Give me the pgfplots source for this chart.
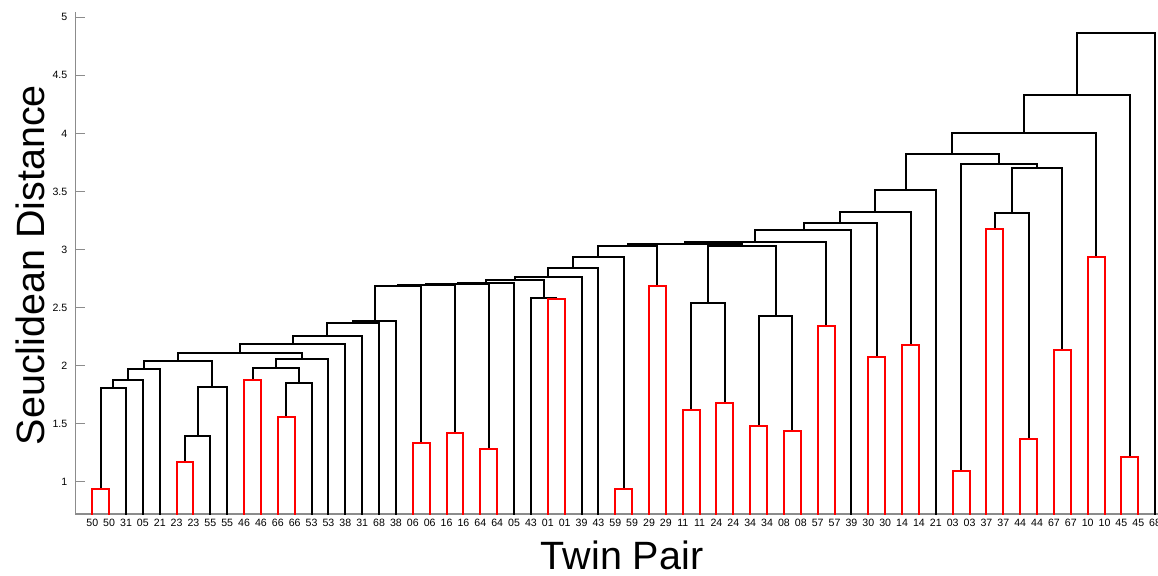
\documentclass[border=0pt]{standalone}
\usepackage{pgfplots}
\pgfplotsset{compat=1.18}
\usepackage{fontspec}
\setmainfont{Liberation Sans}
\begin{document}
\begin{tikzpicture}
\begin{axis}[
  scale only axis,
  width=541.3pt, height=251.15pt,
  at={(37.7pt,30.5pt)}, anchor=south west,
  xmin=0, xmax=64.17, ymin=0.722, ymax=5.048,
  axis x line*=bottom, axis y line*=left,
  axis line style={draw=gray!90, line width=0.8pt, -},
  ytick={1,1.5,2,2.5,3,3.5,4,4.5,5},
  yticklabels={1,1.5,2,2.5,3,3.5,4,4.5,5},
  tick align=inside,
  major tick length=5pt,
  y tick style={draw=gray!90, line width=0.6pt},
  x tick style={draw=none},
  xtick={1,2,3,4,5,6,7,8,9,10,11,12,13,14,15,16,17,18,19,20,21,22,23,24,25,26,27,28,29,30,31,32,33,34,35,36,37,38,39,40,41,42,43,44,45,46,47,48,49,50,51,52,53,54,55,56,57,58,59,60,61,62,63,64},
  xticklabels={50,50,31,05,21,23,23,55,55,46,46,66,66,53,53,38,31,68,38,06,06,16,16,64,64,05,43,01,01,39,43,59,59,29,29,11,11,24,24,34,34,08,08,57,57,39,30,30,14,14,21,03,03,37,37,44,44,67,67,10,10,45,45,68},
  ticklabel style={font=\fontsize{5.3}{6}\selectfont},
  /pgf/number format/assume math mode=true,
  xticklabel style={yshift=1pt},
  yticklabel style={xshift=-0.5pt},
  every axis plot/.append style={line width=1pt, mark=none},
]
% black links
\addplot[black] coordinates {(1.5,0.935)(1.5,1.81)(3,1.81)(3,0)};
\addplot[black] coordinates {(2.25,1.81)(2.25,1.88)(4,1.88)(4,0)};
\addplot[black] coordinates {(3.125,1.88)(3.125,1.97)(5,1.97)(5,0)};
\addplot[black] coordinates {(6.5,1.17)(6.5,1.394)(8,1.394)(8,0)};
\addplot[black] coordinates {(7.25,1.394)(7.25,1.818)(9,1.818)(9,0)};
\addplot[black] coordinates {(4.0625,1.97)(4.0625,2.04)(8.125,2.04)(8.125,1.818)};
\addplot[black] coordinates {(12.5,1.555)(12.5,1.853)(14,1.853)(14,0)};
\addplot[black] coordinates {(10.5,1.88)(10.5,1.979)(13.25,1.979)(13.25,1.853)};
\addplot[black] coordinates {(11.875,1.979)(11.875,2.054)(15,2.054)(15,0)};
\addplot[black] coordinates {(6.094,2.04)(6.094,2.106)(13.4375,2.106)(13.4375,2.054)};
\addplot[black] coordinates {(9.766,2.106)(9.766,2.183)(16,2.183)(16,0)};
\addplot[black] coordinates {(12.883,2.183)(12.883,2.255)(17,2.255)(17,0)};
\addplot[black] coordinates {(14.94,2.255)(14.94,2.364)(18,2.364)(18,0)};
\addplot[black] coordinates {(16.47,2.364)(16.47,2.381)(19,2.381)(19,0)};
\addplot[black] coordinates {(17.735,2.381)(17.735,2.685)(20.5,2.685)(20.5,1.336)};
\addplot[black] coordinates {(19.12,2.685)(19.12,2.69)(22.5,2.69)(22.5,1.417)};
\addplot[black] coordinates {(20.81,2.69)(20.81,2.70)(24.5,2.70)(24.5,1.28)};
\addplot[black] coordinates {(22.655,2.70)(22.655,2.715)(26,2.715)(26,0)};
\addplot[black] coordinates {(27,0)(27,2.58)(28.5,2.58)(28.5,2.575)};
\addplot[black] coordinates {(24.33,2.715)(24.33,2.735)(27.75,2.735)(27.75,2.58)};
\addplot[black] coordinates {(26.04,2.735)(26.04,2.765)(30,2.765)(30,0)};
\addplot[black] coordinates {(28.02,2.765)(28.02,2.838)(31,2.838)(31,0)};
\addplot[black] coordinates {(29.51,2.838)(29.51,2.938)(32.5,2.938)(32.5,0.94)};
\addplot[black] coordinates {(31.005,2.938)(31.005,3.028)(34.5,3.028)(34.5,2.686)};
\addplot[black] coordinates {(36.5,1.62)(36.5,2.542)(38.5,2.542)(38.5,1.68)};
\addplot[black] coordinates {(40.5,1.48)(40.5,2.43)(42.5,2.43)(42.5,1.44)};
\addplot[black] coordinates {(37.5,2.542)(37.5,3.032)(41.5,3.032)(41.5,2.43)};
\addplot[black] coordinates {(32.75,3.028)(32.75,3.05)(39.5,3.05)(39.5,3.032)};
\addplot[black] coordinates {(36.125,3.05)(36.125,3.062)(44.5,3.062)(44.5,2.341)};
\addplot[black] coordinates {(40.31,3.062)(40.31,3.168)(46,3.168)(46,0)};
\addplot[black] coordinates {(43.16,3.168)(43.16,3.226)(47.5,3.226)(47.5,2.077)};
\addplot[black] coordinates {(45.33,3.226)(45.33,3.326)(49.5,3.326)(49.5,2.177)};
\addplot[black] coordinates {(47.41,3.326)(47.41,3.512)(51,3.512)(51,0)};
\addplot[black] coordinates {(54.5,3.18)(54.5,3.317)(56.5,3.317)(56.5,1.368)};
\addplot[black] coordinates {(55.5,3.317)(55.5,3.705)(58.5,3.705)(58.5,2.134)};
\addplot[black] coordinates {(52.5,1.095)(52.5,3.734)(57,3.734)(57,3.705)};
\addplot[black] coordinates {(49.21,3.512)(49.21,3.82)(54.75,3.82)(54.75,3.734)};
\addplot[black] coordinates {(51.98,3.82)(51.98,4.0)(60.5,4.0)(60.5,2.938)};
\addplot[black] coordinates {(56.24,4.0)(56.24,4.33)(62.5,4.33)(62.5,1.215)};
\addplot[black] coordinates {(59.37,4.33)(59.37,4.865)(64,4.865)(64,0)};
% red twin pairs
\addplot[red] coordinates {(1,0)(1,0.935)(2,0.935)(2,0)};
\addplot[red] coordinates {(6,0)(6,1.17)(7,1.17)(7,0)};
\addplot[red] coordinates {(10,0)(10,1.88)(11,1.88)(11,0)};
\addplot[red] coordinates {(12,0)(12,1.555)(13,1.555)(13,0)};
\addplot[red] coordinates {(20,0)(20,1.336)(21,1.336)(21,0)};
\addplot[red] coordinates {(22,0)(22,1.417)(23,1.417)(23,0)};
\addplot[red] coordinates {(24,0)(24,1.28)(25,1.28)(25,0)};
\addplot[red] coordinates {(28,0)(28,2.575)(29,2.575)(29,0)};
\addplot[red] coordinates {(32,0)(32,0.94)(33,0.94)(33,0)};
\addplot[red] coordinates {(34,0)(34,2.686)(35,2.686)(35,0)};
\addplot[red] coordinates {(36,0)(36,1.62)(37,1.62)(37,0)};
\addplot[red] coordinates {(38,0)(38,1.68)(39,1.68)(39,0)};
\addplot[red] coordinates {(40,0)(40,1.48)(41,1.48)(41,0)};
\addplot[red] coordinates {(42,0)(42,1.44)(43,1.44)(43,0)};
\addplot[red] coordinates {(44,0)(44,2.341)(45,2.341)(45,0)};
\addplot[red] coordinates {(47,0)(47,2.077)(48,2.077)(48,0)};
\addplot[red] coordinates {(49,0)(49,2.177)(50,2.177)(50,0)};
\addplot[red] coordinates {(52,0)(52,1.095)(53,1.095)(53,0)};
\addplot[red] coordinates {(54,0)(54,3.18)(55,3.18)(55,0)};
\addplot[red] coordinates {(56,0)(56,1.368)(57,1.368)(57,0)};
\addplot[red] coordinates {(58,0)(58,2.134)(59,2.134)(59,0)};
\addplot[red] coordinates {(60,0)(60,2.938)(61,2.938)(61,0)};
\addplot[red] coordinates {(62,0)(62,1.215)(63,1.215)(63,0)};
\end{axis}
\node[anchor=base, font=\fontsize{19.75}{22}\selectfont] at (311pt,3pt) {Twin Pair};
\node[anchor=base, rotate=90, font=\fontsize{19.75}{22}\selectfont] at (22pt,155pt) {Seuclidean Distance};
\pgfresetboundingbox
\path[use as bounding box] (0,0) rectangle (579pt,287.5pt);
\end{tikzpicture}
\end{document}
